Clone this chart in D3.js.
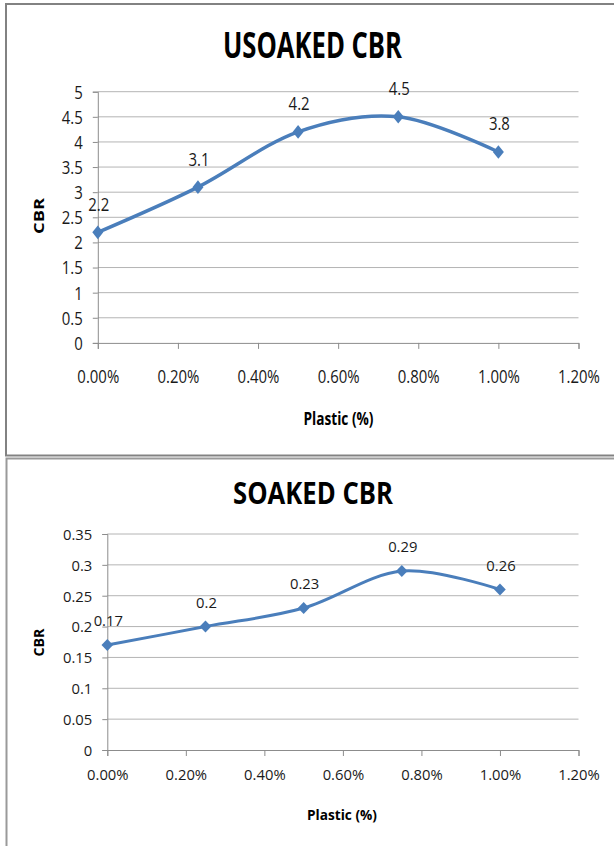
<!DOCTYPE html>
<html>
<head>
<meta charset="utf-8">
<script src="https://cdn.jsdelivr.net/npm/d3@7"></script>
<style>
  html, body { margin: 0; padding: 0; background: #fff; }
  svg { display: block; }
</style>
</head>
<body>
<svg id="chart" width="614" height="846"></svg>
<script>
// Plastic content (%) at which CBR was measured
const plastic = [0, 0.25, 0.5, 0.75, 1.0];

// Unsoaked CBR results
const unsoakedCBR = [2.2, 3.1, 4.2, 4.5, 3.8];
const unsoakedLabels = ["2.2", "3.1", "4.2", "4.5", "3.8"];
const unsoakedYTicks = [0, 0.5, 1, 1.5, 2, 2.5, 3, 3.5, 4, 4.5, 5];
const unsoakedYTickLabels = ["0", "0.5", "1", "1.5", "2", "2.5", "3", "3.5", "4", "4.5", "5"];

// Soaked CBR results
const soakedCBR = [0.17, 0.2, 0.23, 0.29, 0.26];
const soakedLabels = ["0.17", "0.2", "0.23", "0.29", "0.26"];
const soakedYTicks = [0, 0.05, 0.1, 0.15, 0.2, 0.25, 0.3, 0.35];
const soakedYTickLabels = ["0", "0.05", "0.1", "0.15", "0.2", "0.25", "0.3", "0.35"];

// Shared x axis
const xTicks = [0, 0.2, 0.4, 0.6, 0.8, 1.0, 1.2];
const xTickLabels = ["0.00%", "0.20%", "0.40%", "0.60%", "0.80%", "1.00%", "1.20%"];

const svg = d3.select("#chart");
const FONT = "'Open Sans', 'Liberation Sans', sans-serif";
const LINE_BLUE = "#4a7ebb";

// Text that is narrowed horizontally (sx) around its anchor point
function label(parent, x, y, text, o) {
  const g = parent.append("g")
    .attr("transform", `translate(${x},${y}) scale(${o.sx || 1},1)`);
  const t = g.append("text")
    .attr("text-anchor", o.anchor || "middle")
    .attr("font-family", FONT)
    .attr("font-size", o.size)
    .attr("font-weight", o.weight || "normal")
    .attr("fill", o.fill || "#1a1a1a")
    .text(text);
  if (o.length) t.attr("textLength", o.length).attr("lengthAdjust", "spacingAndGlyphs");
  return g;
}

// Diamond marker with separate half-width / half-height
function diamond(hw, hh) {
  return {
    draw(ctx) {
      ctx.moveTo(0, -hh);
      ctx.lineTo(hw, 0);
      ctx.lineTo(0, hh);
      ctx.lineTo(-hw, 0);
      ctx.closePath();
    }
  };
}

function drawChart(cfg) {
  const g = svg.append("g");

  // chart frame
  g.append("rect")
    .attr("x", cfg.frame[0]).attr("y", cfg.frame[1])
    .attr("width", cfg.frame[2]).attr("height", cfg.frame[3])
    .attr("fill", "none").attr("stroke", cfg.frameColor).attr("stroke-width", 2);

  const x = d3.scaleLinear().domain([0, 1.2]).range([cfg.left, cfg.right]);
  const y = d3.scaleLinear().domain([0, cfg.yMax]).range([cfg.bottom, cfg.top]);

  // horizontal gridlines
  g.append("g").selectAll("line")
    .data(cfg.yTicks.filter(d => d > 0))
    .join("line")
    .attr("x1", x(0)).attr("x2", x(1.2))
    .attr("y1", d => y(d)).attr("y2", d => y(d))
    .attr("stroke", "#b4b4b4").attr("stroke-width", 1);

  // y axis
  const yAxis = g.append("g")
    .attr("transform", `translate(${x(0)},0)`)
    .call(d3.axisLeft(y).tickValues(cfg.yTicks).tickSize(5)
      .tickFormat((d, i) => cfg.yTickLabels[i]));
  yAxis.select(".domain").attr("stroke", "#8c8c8c");
  yAxis.selectAll(".tick line").attr("stroke", "#8c8c8c");
  yAxis.selectAll(".tick text")
    .attr("font-family", FONT).attr("font-size", cfg.tickSize)
    .attr("fill", "#1a1a1a")
    .attr("x", -15 / cfg.sx).attr("dy", "0.357em")
    .attr("transform", `scale(${cfg.sx},1)`);

  // x axis
  const xAxis = g.append("g")
    .attr("transform", `translate(0,${y(0)})`)
    .call(d3.axisBottom(x).tickValues(xTicks).tickSize(6)
      .tickFormat((d, i) => xTickLabels[i]));
  xAxis.select(".domain").attr("stroke", "#8c8c8c");
  xAxis.selectAll(".tick line").attr("stroke", "#8c8c8c");
  xAxis.selectAll(".tick text")
    .attr("font-family", FONT).attr("font-size", cfg.tickSize)
    .attr("fill", "#1a1a1a")
    .attr("y", cfg.xLabelOffset).attr("dy", "0.357em")
    .attr("transform", `scale(${cfg.sx},1)`);

  // smoothed series line
  const pts = plastic.map((p, i) => [p, cfg.values[i]]);
  const line = d3.line()
    .x(d => x(d[0])).y(d => y(d[1]))
    .curve(d3.curveCardinal.tension(0));
  g.append("path")
    .datum(pts)
    .attr("d", line)
    .attr("fill", "none")
    .attr("stroke", LINE_BLUE)
    .attr("stroke-width", cfg.lineWidth)
    .attr("stroke-linejoin", "round");

  // markers
  g.append("g").selectAll("path")
    .data(pts)
    .join("path")
    .attr("transform", d => `translate(${x(d[0])},${y(d[1])})`)
    .attr("d", d3.symbol().type(diamond(cfg.marker[0], cfg.marker[1]))())
    .attr("fill", LINE_BLUE);

  // data labels
  pts.forEach((d, i) => {
    label(g, x(d[0]) + 1, y(d[1]) - cfg.labelLift + 0.357 * cfg.tickSize,
      cfg.labels[i], { size: cfg.tickSize, sx: cfg.sx });
  });

  // chart title
  label(g, cfg.titleX, cfg.titleY, cfg.title,
    { size: cfg.titleSize, weight: "bold", fill: "#000", length: cfg.titleLength });

  // axis titles
  label(g, cfg.xTitlePos[0], cfg.xTitlePos[1], "Plastic (%)",
    { size: cfg.axisTitleSize, weight: "bold", fill: "#000", length: 70 });
  const yt = g.append("g")
    .attr("transform", `translate(${cfg.yTitlePos[0]},${cfg.yTitlePos[1]}) rotate(-90)`);
  yt.append("text")
    .attr("text-anchor", "middle")
    .attr("font-family", FONT).attr("font-weight", "bold")
    .attr("font-size", cfg.yTitleSize)
    .attr("dy", "0.357em")
    .attr("textLength", cfg.yTitleLength).attr("lengthAdjust", "spacingAndGlyphs")
    .attr("fill", "#000")
    .text("CBR");
}

drawChart({
  title: "USOAKED CBR",
  titleX: 312.5, titleY: 58, titleSize: 35, titleLength: 179,
  frame: [6, 4, 640, 451.5], frameColor: "#828282",
  left: 97.8, right: 578.5, top: 91.7, bottom: 342.9,
  yMax: 5, yTicks: unsoakedYTicks, yTickLabels: unsoakedYTickLabels,
  values: unsoakedCBR, labels: unsoakedLabels,
  tickSize: 18, sx: 0.83, xLabelOffset: 33.5,
  labelLift: 28, lineWidth: 3.5, marker: [5.5, 6.8],
  axisTitleSize: 17.5, xTitlePos: [338.5, 425], yTitlePos: [38.5, 216],
  yTitleSize: 14.5, yTitleLength: 36
});

drawChart({
  title: "SOAKED CBR",
  titleX: 313, titleY: 504, titleSize: 31, titleLength: 160,
  frame: [6.5, 458.5, 640, 420], frameColor: "#9a9a9a",
  left: 107.3, right: 578.5, top: 534, bottom: 750,
  yMax: 0.35, yTicks: soakedYTicks, yTickLabels: soakedYTickLabels,
  values: soakedCBR, labels: soakedLabels,
  tickSize: 14.8, sx: 1.0, xLabelOffset: 25,
  labelLift: 24, lineWidth: 3, marker: [5.8, 6],
  axisTitleSize: 15, xTitlePos: [342, 819.5], yTitlePos: [38.7, 642.5],
  yTitleSize: 14, yTitleLength: 28
});
</script>
</body>
</html>
